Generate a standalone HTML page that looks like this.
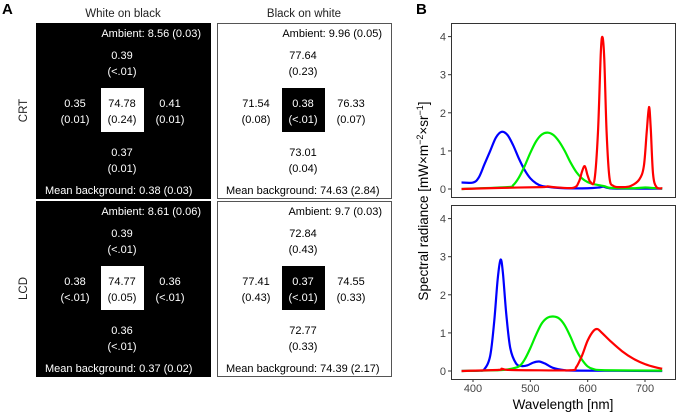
<!DOCTYPE html>
<html><head><meta charset="utf-8">
<style>
body{margin:0;background:#fff;}
svg{display:block;font-family:"Liberation Sans",Arial,sans-serif;}
</style></head>
<body>
<svg id="fig" width="677" height="413" viewBox="0 0 677 413">
<text x="2" y="14" font-size="15" font-weight="bold">A</text>
<text x="416" y="14" font-size="15" font-weight="bold">B</text>
<g id="panelA"></g>
<g id="panelB"></g>
</svg>
<script>
// ---------- Panel A data ----------
const rowsA = ["CRT", "LCD"];
const colTitles = ["White on black", "Black on white"];
const ambient = [["8.56 (0.03)", "9.96 (0.05)"], ["8.61 (0.06)", "9.7 (0.03)"]];
const meanBg = [["0.38 (0.03)", "74.63 (2.84)"], ["0.37 (0.02)", "74.39 (2.17)"]];
// cells: top, left, center, right, bottom : [value, sd]
const cellsCRT_WoB = [["0.39","(<.01)"],["0.35","(0.01)"],["74.78","(0.24)"],["0.41","(0.01)"],["0.37","(0.01)"]];
const cellsCRT_BoW = [["77.64","(0.23)"],["71.54","(0.08)"],["0.38","(<.01)"],["76.33","(0.07)"],["73.01","(0.04)"]];
const cellsLCD_WoB = [["0.39","(<.01)"],["0.38","(<.01)"],["74.77","(0.05)"],["0.36","(<.01)"],["0.36","(<.01)"]];
const cellsLCD_BoW = [["72.84","(0.43)"],["77.41","(0.43)"],["0.37","(<.01)"],["74.55","(0.33)"],["72.77","(0.33)"]];

// ---------- Panel B data ----------
const crtBlueWl = [380,400,410,420,430,440,450,460,470,480,490,500,510,520,540,560,600,620,627,635,650,730];
const crtBlueVal = [0.17,0.17,0.3,0.65,1.0,1.35,1.5,1.42,1.15,0.8,0.5,0.28,0.15,0.08,0.04,0.02,0.02,0.04,0.06,0.03,0.01,0.01];
const crtGreenWl = [380,460,470,480,490,500,510,520,530,540,550,560,570,580,590,600,610,620,630,640,680,700,710,730];
const crtGreenVal = [0,0.05,0.1,0.3,0.6,0.95,1.25,1.43,1.48,1.42,1.25,1.0,0.7,0.45,0.28,0.18,0.13,0.1,0.07,0.03,0.02,0.04,0.03,0.01];
const crtRedWl = [380,450,520,530,540,575,585,590,595,600,605,612,618,623,626,629,633,638,645,660,675,690,698,703,707,710,714,720,730];
const crtRedVal = [0,0.03,0.05,0.07,0.05,0.03,0.2,0.45,0.6,0.35,0.18,0.25,1.5,3.6,3.98,3.4,1.5,0.3,0.08,0.05,0.08,0.25,0.6,1.5,2.15,1.6,0.4,0.05,0.02];
const lcdBlueWl = [380,410,420,430,437,443,448,452,458,465,475,485,495,505,515,525,540,560,580,730];
const lcdBlueVal = [0,0.01,0.05,0.4,1.3,2.4,2.92,2.6,1.5,0.6,0.2,0.13,0.15,0.22,0.25,0.2,0.08,0.02,0.01,0];
const lcdGreenWl = [380,440,460,480,490,500,510,520,530,540,550,560,570,580,590,600,610,630,730];
const lcdGreenVal = [0,0.02,0.04,0.12,0.3,0.6,0.95,1.25,1.4,1.43,1.38,1.2,0.9,0.55,0.3,0.12,0.05,0.02,0.01];
const lcdRedWl = [380,445,450,460,500,570,580,590,600,610,617,625,640,660,680,700,720,730];
const lcdRedVal = [0,0.03,0.06,0.03,0.02,0.02,0.1,0.4,0.8,1.05,1.1,1.0,0.78,0.52,0.32,0.18,0.09,0.06];
const yTicks = [0,1,2,3,4];
const xTicks = [400,500,600,700];

const NS = "http://www.w3.org/2000/svg";
function mk(tag, attrs, parent, txt){
  const e = document.createElementNS(NS, tag);
  for (const k in attrs) e.setAttribute(k, attrs[k]);
  if (txt !== undefined) e.textContent = txt;
  parent.appendChild(e);
  return e;
}

// ---------- draw panel A ----------
const gA = document.getElementById("panelA");
const boxX = [36, 217], boxW = 174, boxH = 175, boxY = [23, 201];
colTitles.forEach((t,i)=>{
  const e = mk("text",{x:boxX[i]+boxW/2, y:17, "font-size":11.5, "text-anchor":"middle", fill:"#222"}, gA, t);
  
  
});
const allCells = [[cellsCRT_WoB, cellsCRT_BoW],[cellsLCD_WoB, cellsLCD_BoW]];
rowsA.forEach((r,ri)=>{
  const y0 = boxY[ri];
  const rl = mk("text",{x:0,y:0,"font-size":11.5,"text-anchor":"middle",fill:"#222",transform:`translate(27,${y0+boxH/2}) rotate(-90)`}, gA, r);
  
  
  [0,1].forEach(ci=>{
    const x0 = boxX[ci];
    const dark = ci===0;
    const bg = dark ? "#000" : "#fff", fg = dark ? "#fff" : "#000";
    const box = mk("rect",{x:x0+0.5,y:y0+0.5,width:boxW,height:boxH,fill:bg,stroke:dark?"#000":"#555","stroke-width":1}, gA);
    
    
    const sq = mk("rect",{x:x0+65,y:y0+65,width:43,height:44,fill:fg}, gA);
    
    
    const am = mk("text",{x:x0+165,y:y0+14,"font-size":11,"text-anchor":"end",fill:fg}, gA, "Ambient: "+ambient[ri][ci]);
    
    
    const mb = mk("text",{x:x0+9,y:y0+171,"font-size":11,fill:fg}, gA, "Mean background: "+meanBg[ri][ci]);
    
    
    const pos = [[86,36],[39,84],[86,84],[134,84],[86,133]];
    allCells[ri][ci].forEach((c,k)=>{
      const col = (k===2) ? bg : fg;
      const t1 = mk("text",{x:x0+pos[k][0],y:y0+pos[k][1],"font-size":11,"text-anchor":"middle",fill:col}, gA, c[0]);
      
      
      const t2 = mk("text",{x:x0+pos[k][0],y:y0+pos[k][1]+16,"font-size":11,"text-anchor":"middle",fill:col}, gA, c[1]);
      
      
    });
  });
});

// ---------- draw panel B ----------
const gB = document.getElementById("panelB");
const plotL = 451, plotR = 676;
const panels = [{top:23,bot:197,y0:189,series:[[crtBlueWl,crtBlueVal,"#0000ff"],[crtGreenWl,crtGreenVal,"#00ee00"],[crtRedWl,crtRedVal,"#ff0000"]]},
                {top:205,bot:379,y0:371,series:[[lcdBlueWl,lcdBlueVal,"#0000ff"],[lcdGreenWl,lcdGreenVal,"#00ee00"],[lcdRedWl,lcdRedVal,"#ff0000"]]}];
const xs = wl => 473 + (wl-400)*(645-473)/300;
const unit = 38.1;
function smoothPath(pts){
  let d = `M${pts[0][0].toFixed(2)},${pts[0][1].toFixed(2)}`;
  for (let i=0;i<pts.length-1;i++){
    const p0=pts[Math.max(0,i-1)], p1=pts[i], p2=pts[i+1], p3=pts[Math.min(pts.length-1,i+2)];
    const c1=[p1[0]+(p2[0]-p0[0])/6, p1[1]+(p2[1]-p0[1])/6];
    const c2=[p2[0]-(p3[0]-p1[0])/6, p2[1]-(p3[1]-p1[1])/6];
    d += ` C${c1[0].toFixed(2)},${c1[1].toFixed(2)} ${c2[0].toFixed(2)},${c2[1].toFixed(2)} ${p2[0].toFixed(2)},${p2[1].toFixed(2)}`;
  }
  return d;
}
panels.forEach((p,pi)=>{
  const ys = v => p.y0 - v*unit;
  const fr = mk("rect",{x:plotL+0.5,y:p.top+0.5,width:plotR-plotL-1,height:p.bot-p.top,fill:"#fff",stroke:"#333","stroke-width":1}, gB);
  
  
  yTicks.forEach(t=>{
    const tk = mk("line",{x1:plotL-3,x2:plotL,y1:ys(t),y2:ys(t),stroke:"#333"}, gB);
    
    
    const tl = mk("text",{x:plotL-5,y:ys(t)+4,"font-size":11,"text-anchor":"end",fill:"#444"}, gB, String(t));
    
    
  });
  p.series.forEach(s=>{
    const pts = s[0].map((w,i)=>[xs(w), ys(s[1][i])]);
    const path = mk("path",{d:smoothPath(pts),fill:"none",stroke:s[2],"stroke-width":2.2,"stroke-linejoin":"round"}, gB);
    
    
  });
});
xTicks.forEach(t=>{
  const tk = mk("line",{x1:xs(t),x2:xs(t),y1:379,y2:382,stroke:"#333"}, gB);
  
  
  const tl = mk("text",{x:xs(t),y:392,"font-size":11,"text-anchor":"middle",fill:"#444"}, gB, String(t));
  
  
});
const xt = mk("text",{x:563,y:409,"font-size":13.5,"text-anchor":"middle",fill:"#000"}, gB, "Wavelength [nm]");


const yt = mk("text",{x:0,y:0,"font-size":13.5,"text-anchor":"middle",fill:"#000",transform:"translate(428,201) rotate(-90)"}, gB);


yt.innerHTML = 'Spectral radiance [mW×m<tspan dy="-5" font-size="9">−2</tspan><tspan dy="5">×sr</tspan><tspan dy="-5" font-size="9">−1</tspan><tspan dy="5">]</tspan>';
</script>
</body></html>
